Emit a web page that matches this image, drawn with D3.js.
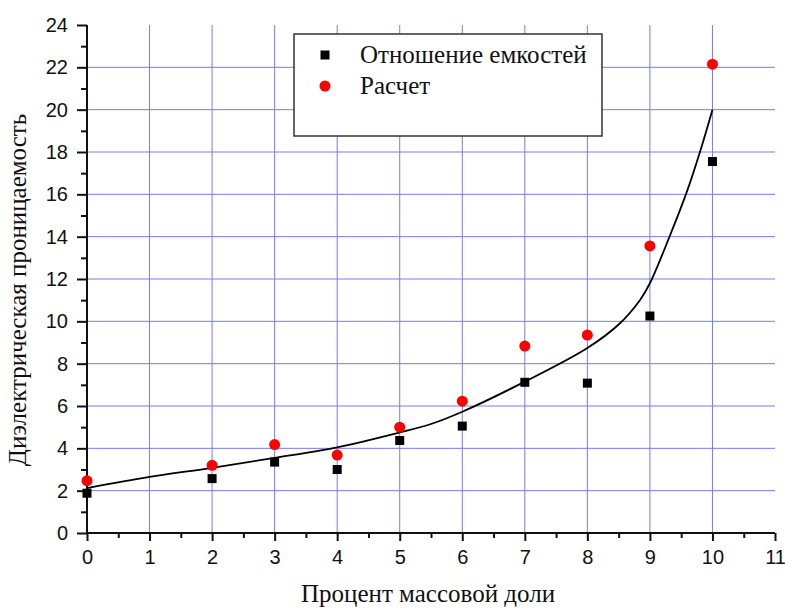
<!DOCTYPE html>
<html>
<head>
<meta charset="utf-8">
<script src="https://cdn.jsdelivr.net/npm/d3@7"></script>
<style>
  html, body { margin: 0; padding: 0; background: #fff; }
  svg { display: block; }
</style>
</head>
<body>
<svg id="chart" width="785" height="610"></svg>
<script>
// Mass fraction percentages where measurements were taken
const massPercent = [0, 2, 3, 4, 5, 6, 7, 8, 9, 10];
// Capacitance ratio measurements
const capacitanceRatio = [1.88, 2.57, 3.35, 3.0, 4.37, 5.05, 7.12, 7.08, 10.25, 17.55];
// Calculated permittivity
const calculated = [2.47, 3.2, 4.18, 3.68, 5.0, 6.23, 8.83, 9.35, 13.56, 22.15];
// Fitted trend line
const fitX = [0, 1, 2, 3, 4, 5, 5.5, 6, 7, 8, 8.5, 8.84, 9, 9.3, 9.6, 9.8, 10];
const fitY = [2.12, 2.65, 3.08, 3.55, 4.05, 4.75, 5.15, 5.73, 7.15, 8.74, 9.85, 11.0, 11.8, 13.9, 16.2, 18.0, 20.0];
// Tick values
const xTicks = [0, 1, 2, 3, 4, 5, 6, 7, 8, 9, 10, 11];
const yTicks = [0, 2, 4, 6, 8, 10, 12, 14, 16, 18, 20, 22, 24];
const legendLabels = ["Отношение емкостей", "Расчет"];

const svg = d3.select("#chart");
const plotLeft = 87, plotRight = 775, plotTop = 25, plotBottom = 533;

const x = d3.scaleLinear().domain([0, 11]).range([plotLeft, plotRight]);
const y = d3.scaleLinear().domain([0, 24]).range([plotBottom, plotTop]);

const gridColor = "#7a7af0";

// Grid
const grid = svg.append("g");
grid.selectAll("line.v").data(xTicks.filter(d => d > 0 && d < 11)).join("line")
  .attr("x1", d => x(d)).attr("x2", d => x(d))
  .attr("y1", y(24)).attr("y2", y(0))
  .attr("stroke", gridColor).attr("stroke-width", 1);
grid.selectAll("line.h").data(yTicks.filter(d => d > 0 && d < 24)).join("line")
  .attr("x1", x(0)).attr("x2", x(11))
  .attr("y1", d => y(d)).attr("y2", d => y(d))
  .attr("stroke", gridColor).attr("stroke-width", 1);

// Axes
const tickFont = "'Liberation Sans', Arial, sans-serif";
const xAxis = svg.append("g").attr("transform", `translate(0,${plotBottom})`)
  .call(d3.axisBottom(x).tickValues(xTicks).tickSize(8).tickPadding(9).tickFormat(d3.format("d")));
svg.append("g").attr("transform", `translate(0,${plotBottom})`)
  .call(d3.axisBottom(x).tickValues(d3.range(0.5, 11, 1)).tickSize(5).tickFormat(""))
  .call(g => g.select(".domain").remove());
const yAxis = svg.append("g").attr("transform", `translate(${plotLeft},0)`)
  .call(d3.axisLeft(y).tickValues(yTicks).tickSize(10).tickPadding(9).tickFormat(d3.format("d")));
svg.append("g").attr("transform", `translate(${plotLeft},0)`)
  .call(d3.axisLeft(y).tickValues(d3.range(1, 24, 2)).tickSize(6).tickFormat(""))
  .call(g => g.select(".domain").remove());

svg.selectAll(".domain").attr("stroke", "#111").attr("stroke-width", 2);
svg.selectAll(".tick line").attr("stroke", "#111").attr("stroke-width", 2);
svg.selectAll(".tick text").attr("font-family", tickFont).attr("font-size", 20).attr("fill", "#111");
// flat axis lines, no outer ticks
xAxis.select(".domain").attr("d", `M${plotLeft},0H${plotRight}`);
yAxis.select(".domain").attr("d", `M0,${plotBottom}V${plotTop}`);

// Fit curve
const line = d3.line().x(d => x(d[0])).y(d => y(d[1])).curve(d3.curveCatmullRom.alpha(0.5));
svg.append("path")
  .datum(fitX.map((v, i) => [v, fitY[i]]))
  .attr("d", line)
  .attr("fill", "none").attr("stroke", "#000").attr("stroke-width", 1.8);

// Calculated values (red circles)
svg.append("g").selectAll("circle").data(massPercent).join("circle")
  .attr("cx", d => x(d)).attr("cy", (d, i) => y(calculated[i]))
  .attr("r", 5.5).attr("fill", "#ff0000");

// Capacitance ratio (black squares)
const sq = 9;
svg.append("g").selectAll("rect").data(massPercent).join("rect")
  .attr("x", d => x(d) - sq / 2).attr("y", (d, i) => y(capacitanceRatio[i]) - sq / 2)
  .attr("width", sq).attr("height", sq).attr("fill", "#000");

// Legend
const serif = "'Liberation Serif', 'Times New Roman', serif";
const lg = svg.append("g");
lg.append("rect").attr("x", 294).attr("y", 34).attr("width", 308).attr("height", 102)
  .attr("fill", "#fff").attr("stroke", "#333").attr("stroke-width", 1.5);
lg.append("rect").attr("x", 325 - sq / 2).attr("y", 55 - sq / 2).attr("width", sq).attr("height", sq).attr("fill", "#000");
lg.append("circle").attr("cx", 325).attr("cy", 86).attr("r", 5.5).attr("fill", "#ff0000");
lg.selectAll("text").data(legendLabels).join("text")
  .attr("x", 360).attr("y", (d, i) => 63 + i * 31)
  .attr("font-family", serif).attr("font-size", 25).attr("fill", "#111")
  .text(d => d);

// Axis titles
svg.append("text")
  .attr("transform", `translate(26,290) rotate(-90)`)
  .attr("text-anchor", "middle")
  .attr("font-family", serif).attr("font-size", 25).attr("fill", "#111")
  .text("Диэлектрическая проницаемость");
svg.append("text")
  .attr("x", 428).attr("y", 602)
  .attr("text-anchor", "middle")
  .attr("font-family", serif).attr("font-size", 25).attr("fill", "#111")
  .text("Процент массовой доли");
</script>
</body>
</html>
